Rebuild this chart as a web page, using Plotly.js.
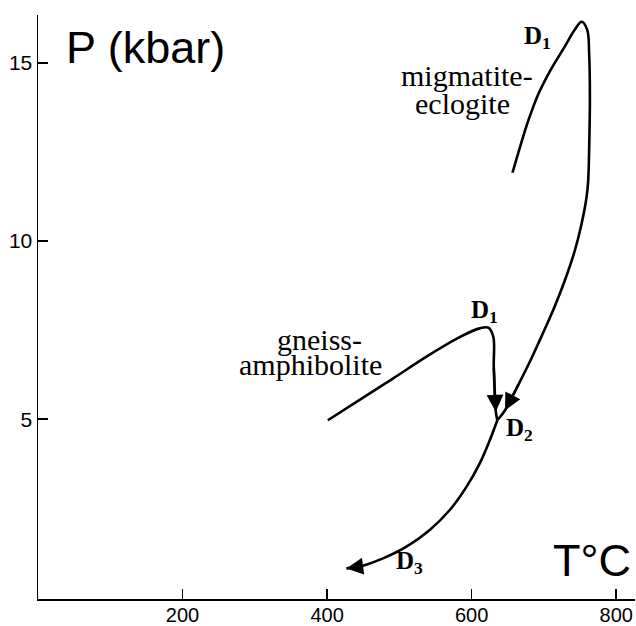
<!DOCTYPE html>
<html>
<head>
<meta charset="utf-8">
<script src="https://cdn.plot.ly/plotly-3.0.1.min.js"></script>
<style>html,body{margin:0;padding:0;background:#fff;}#chart{width:636px;height:626px;}</style>
</head>
<body>
<div id="chart"></div>
<script>
// Temperature (°C) and pressure (kbar)
const migmatiteT = [656.5, 666.6, 678.1, 692.0, 708.2, 729.0, 742.8, 752.1, 759.8, 762.6, 763.6, 762.6, 761.2, 759.0, 752.1, 742.8, 729.0, 712.7, 694.3, 683.5, 665.4, 646.2, 635.5];
const migmatiteP = [11.92, 12.62, 13.37, 14.12, 14.77, 15.47, 15.94, 16.16, 15.94, 15.24, 14.03, 12.62, 11.69, 11.24, 10.49, 9.74, 8.90, 8.06, 7.22, 6.74, 6.00, 5.25, 4.97];
const gneissT = [401, 445, 491, 537, 584, 611, 623, 630, 630.6, 633.4, 635.5];
const gneissP = [4.97, 5.54, 6.14, 6.75, 7.31, 7.55, 7.57, 7.31, 6.47, 5.21, 4.97];
const retroT = [635.5, 625.1, 611.2, 592.8, 569.7, 542.0, 509.8, 477.3, 445.1, 426.7];
const retroP = [4.97, 4.41, 3.76, 3.10, 2.45, 1.89, 1.42, 1.09, 0.86, 0.81];
const xTicks = [200, 400, 600, 800];
const yTicks = [5, 10, 15];

const lineStyle = {color: '#000', width: 2.6, shape: 'spline', smoothing: 1};
const traces = [
  {x: migmatiteT, y: migmatiteP, mode: 'lines', line: lineStyle, hoverinfo: 'skip'},
  {x: gneissT, y: gneissP, mode: 'lines', line: lineStyle, hoverinfo: 'skip'},
  {x: retroT, y: retroP, mode: 'lines', line: lineStyle, hoverinfo: 'skip'}
];

const serif = {family: 'Liberation Serif', size: 30, color: '#000'};
const dfont = {family: 'Liberation Serif', size: 25, color: '#000'};
const sans = {family: 'Liberation Sans', size: 45, color: '#000'};

function arrow(tipIdx, tailIdx, xs, ys) {
  return {x: xs[tipIdx], y: ys[tipIdx], ax: xs[tailIdx], ay: ys[tailIdx],
    xref: 'x', yref: 'y', axref: 'x', ayref: 'y', text: '', showarrow: true,
    arrowhead: 2, arrowsize: 1.4, arrowwidth: 2.4, arrowcolor: '#000', standoff: 0, startstandoff: 0};
}
function label(x, y, text, font, xanchor) {
  return {x: x, y: y, xref: 'x', yref: 'y', text: text, showarrow: false,
    xanchor: xanchor, yanchor: 'middle', font: font, borderpad: 0};
}

const annotations = [
  label(38, 15.44, 'P (kbar)', sans, 'left'),
  label(822, 1.03, 'T°C', sans, 'right'),
  label(593, 14.66, 'migmatite-', serif, 'center'),
  label(588, 13.87, 'eclogite', serif, 'center'),
  label(390, 7.24, 'gneiss-', serif, 'center'),
  label(377, 6.54, 'amphibolite', serif, 'center'),
  label(671, 15.73, '<b>D<sub>1</sub></b>', dfont, 'left'),
  label(598, 8.01, '<b>D<sub>1</sub></b>', dfont, 'left'),
  label(646, 4.70, '<b>D<sub>2</sub></b>', dfont, 'left'),
  label(494, 0.98, '<b>D<sub>3</sub></b>', dfont, 'left'),
  arrow(21, 20, migmatiteT, migmatiteP),
  arrow(9, 8, gneissT, gneissP),
  arrow(9, 8, retroT, retroP)
];

const axisCommon = {showgrid: false, zeroline: false, showline: true, linecolor: '#000', linewidth: 1.5,
  ticks: 'inside', tickcolor: '#000', tickwidth: 1.5, ticklen: 10,
  tickfont: {family: 'Liberation Sans', size: 21, color: '#000'}, fixedrange: true};

const layout = {
  width: 636, height: 626,
  margin: {l: 38, r: 1, t: 15, b: 27, pad: 0},
  paper_bgcolor: '#fff', plot_bgcolor: '#fff',
  showlegend: false,
  xaxis: Object.assign({}, axisCommon, {range: [0, 826], tickmode: 'array', tickvals: xTicks, ticktext: xTicks.map(String),
    ticklabelstandoff: -3, tickfont: {family: 'Liberation Sans', size: 20, color: '#000'}}),
  yaxis: Object.assign({}, axisCommon, {range: [-0.05, 16.35], tickmode: 'array', tickvals: yTicks, ticktext: yTicks.map(String)}),
  annotations: annotations
};

Plotly.newPlot('chart', traces, layout, {displayModeBar: false, staticPlot: true});
</script>
</body>
</html>
